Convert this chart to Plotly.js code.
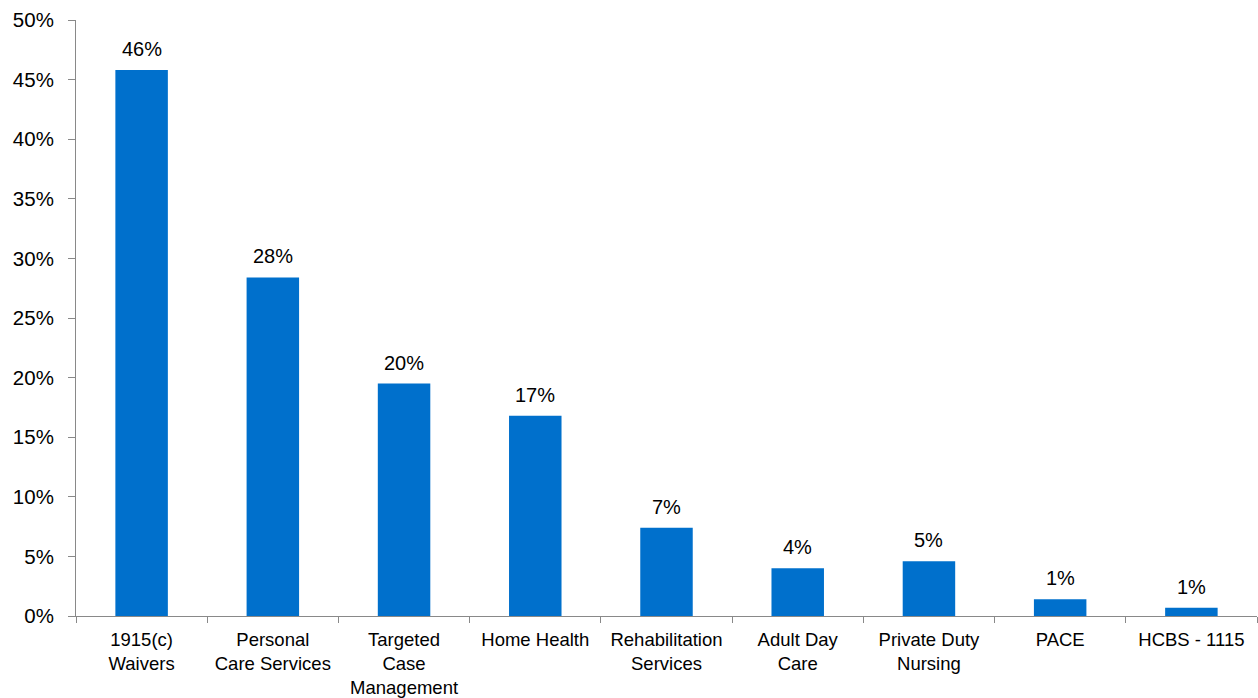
<!DOCTYPE html>
<html>
<head>
<meta charset="utf-8">
<script src="https://cdn.plot.ly/plotly-3.0.1.min.js"></script>
<style>html,body{margin:0;padding:0;background:#fff;}#chart{width:1258px;height:698px;}</style>
</head>
<body>
<div id="chart"></div>
<script>
const categories = ["1915(c)<br>Waivers", "Personal<br>Care Services", "Targeted<br>Case<br>Management", "Home Health", "Rehabilitation<br>Services", "Adult Day<br>Care", "Private Duty<br>Nursing", "PACE", "HCBS - 1115"];
const values = [45.8, 28.4, 19.5, 16.8, 7.4, 4.0, 4.6, 1.4, 0.7];
const labels = ["46%", "28%", "20%", "17%", "7%", "4%", "5%", "1%", "1%"];
const yTickVals = [0, 5, 10, 15, 20, 25, 30, 35, 40, 45, 50];
const yTickText = ["0%", "5%", "10%", "15%", "20%", "25%", "30%", "35%", "40%", "45%", "50%"];

const font = "Liberation Sans, Arial, sans-serif";
const trace = {
  type: "bar",
  x: categories,
  y: values,
  marker: {color: "#0070CC"},
  width: 0.4,
  hoverinfo: "skip"
};
const annotations = categories.map((c, i) => ({
  x: c, y: values[i], text: labels[i], showarrow: false,
  xanchor: "center", yanchor: "bottom", yshift: 8,
  font: {family: font, size: 20, color: "#000"}
}));
const layout = {
  width: 1258, height: 698,
  margin: {l: 76, r: 1, t: 20, b: 82},
  paper_bgcolor: "#fff", plot_bgcolor: "#fff",
  showlegend: false,
  font: {family: font, size: 18, color: "#000"},
  xaxis: {
    type: "category",
    showline: true, linecolor: "#898989", linewidth: 1,
    ticks: "outside", tickson: "boundaries", ticklen: 6, tickcolor: "#898989",
    ticklabelstandoff: 7,
    tickangle: 0,
    showgrid: false, zeroline: false,
    tickfont: {family: font, size: 18.5, color: "#000"},
    fixedrange: true
  },
  yaxis: {
    range: [0, 50],
    tickvals: yTickVals, ticktext: yTickText,
    showline: true, linecolor: "#898989", linewidth: 1,
    ticks: "outside", ticklen: 7, tickcolor: "#898989",
    ticklabelstandoff: 10,
    showgrid: false, zeroline: false,
    tickfont: {family: font, size: 20.5, color: "#000"},
    fixedrange: true
  },
  annotations: annotations,
  bargap: 0.6
};
Plotly.newPlot("chart", [trace], layout, {displayModeBar: false, staticPlot: true});
</script>
</body>
</html>
